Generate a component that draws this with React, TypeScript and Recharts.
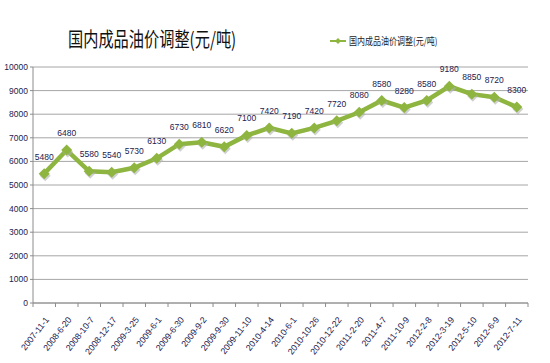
import React from 'react';
import { LineChart, Line, XAxis, YAxis, CartesianGrid, LabelList } from 'recharts';

const dates = [
  '2007-11-1', '2008-6-20', '2008-10-7', '2008-12-17', '2009-3-25', '2009-6-1',
  '2009-6-30', '2009-9-2', '2009-9-30', '2009-11-10', '2010-4-14', '2010-6-1',
  '2010-10-26', '2010-12-22', '2011-2-20', '2011-4-7', '2011-10-9', '2012-2-8',
  '2012-3-19', '2012-5-10', '2012-6-9', '2012-7-11',
];
const prices = [
  5480, 6480, 5580, 5540, 5730, 6130, 6730, 6810, 6620, 7100, 7420, 7190,
  7420, 7720, 8080, 8580, 8280, 8580, 9180, 8850, 8720, 8300,
];
const yTicks = [0, 1000, 2000, 3000, 4000, 5000, 6000, 7000, 8000, 9000, 10000];

const SERIES = '国内成品油价调整(元/吨)';
const GREEN = '#8db53f';
const TEXT = '#1c2150';
const FONT = '"Liberation Sans", Arial, sans-serif';
const CJK = '"Noto Sans CJK SC", sans-serif';

const data = dates.map((d, i) => ({ date: d, value: prices[i] }));

// half a category band, so the tick marks sit between categories like Excel
const HALF = 11.2;

const DateTick = (props: any) => {
  const { x, y, payload, index } = props;
  return (
    <g>
      <line x1={x - HALF} y1={y} x2={x - HALF} y2={y + 4} stroke="#8c8c8c" />
      {index === dates.length - 1 && (
        <line x1={x + HALF} y1={y} x2={x + HALF} y2={y + 4} stroke="#8c8c8c" />
      )}
      <g transform={`translate(${x + 3},${y + 15})`}>
        <text transform="rotate(-52)" textAnchor="end" dy={3} fontSize={8.8} fill={TEXT} fontFamily={FONT}>
          {payload.value}
        </text>
      </g>
    </g>
  );
};

const Diamond = (props: any) => {
  const { cx, cy } = props;
  if (cx == null || cy == null) return null;
  const r = 5.5;
  return (
    <g>
      <path d={`M${cx + 1},${cy - r + 2} L${cx + r + 1},${cy + 2} L${cx + 1},${cy + r + 2} L${cx - r + 1},${cy + 2} Z`} fill="#b0b0b0" opacity={0.6} />
      <path d={`M${cx},${cy - r} L${cx + r},${cy} L${cx},${cy + r} L${cx - r},${cy} Z`} fill={GREEN} />
    </g>
  );
};

export default function App() {
  return (
    <div style={{ position: 'absolute', left: 0, top: 0, width: 550, height: 363, background: '#fff' }}>
      <div
        style={{
          position: 'absolute', left: 68, top: 24, fontSize: 20, color: '#111',
          fontFamily: CJK, whiteSpace: 'nowrap', transform: 'scaleX(0.76)', transformOrigin: 'left top',
        }}
      >
        {SERIES}
      </div>
      <div
        style={{
          position: 'absolute', left: 330, top: 33, display: 'flex', alignItems: 'center',
          fontFamily: CJK, fontSize: 10, color: '#222', whiteSpace: 'nowrap',
        }}
      >
        <svg width={16} height={8}>
          <line x1={0} y1={4} x2={16} y2={4} stroke={GREEN} strokeWidth={2} />
          <path d="M8,1 L11,4 L8,7 L5,4 Z" fill={GREEN} />
        </svg>
        <span style={{ marginLeft: 3, display: 'inline-block', transform: 'scaleX(0.8)', transformOrigin: 'left center' }}>
          {SERIES}
        </span>
      </div>
      <LineChart width={550} height={363} data={data} margin={{ top: 67, right: 22, bottom: 0, left: 3 }}>
        <CartesianGrid vertical={false} stroke="#a6a6a6" />
        <XAxis
          dataKey="date"
          interval={0}
          height={60}
          padding={{ left: HALF, right: HALF }}
          tick={<DateTick />}
          tickLine={false}
          tickSize={0}
          tickMargin={0}
          stroke="#8c8c8c"
        />
        <YAxis
          domain={[0, 10000]}
          ticks={yTicks}
          width={30}
          tickSize={3}
          stroke="#8c8c8c"
          tick={{ fontSize: 8.5, fill: TEXT, fontFamily: FONT }}
        />
        <Line
          type="linear"
          dataKey="value"
          name={SERIES}
          stroke={GREEN}
          strokeWidth={4.5}
          dot={<Diamond />}
          activeDot={false}
          isAnimationActive={false}
        >
          <LabelList dataKey="value" position="top" offset={14} fontSize={8.5} fill={TEXT} fontFamily={FONT} />
        </Line>
      </LineChart>
    </div>
  );
}
